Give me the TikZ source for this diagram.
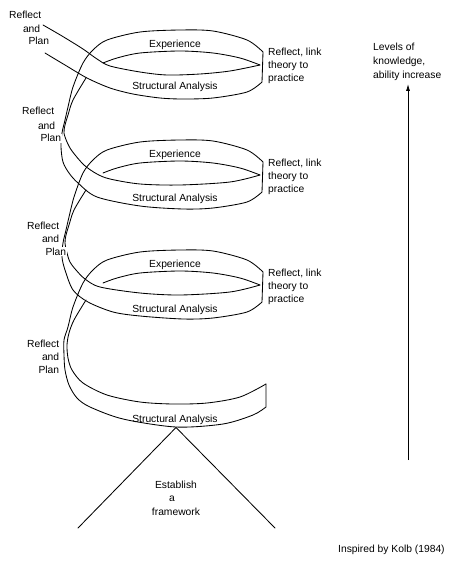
\documentclass[tikz,border=0pt]{standalone}
\usepackage{fontspec}
\setmainfont{Liberation Sans}
\usetikzlibrary{arrows.meta}
\begin{document}
\begin{tikzpicture}[x=1pt,y=-1pt,
  edge/.style={line width=0.85pt, line join=round, line cap=round},
  lbl/.style={font=\fontsize{10.3}{12}\selectfont, inner sep=0pt},
  rplbl/.style={lbl, fill=white, inner sep=0.6pt}]
\useasboundingbox (0,0) rectangle (456,564);

% outer edge of the ribbon (one continuous line through all turns)
\draw[edge] plot[smooth] coordinates {(45,53)(65,65)(87,78)(110,88)(133,94)(160,98)(183,99)(213,98)(247,92)(262,82)}
 -- plot[smooth] coordinates {(263,52)(247,40)(213,31)(180,30)(140,32)(107,40)(93,50)(83,63)(73,87)(68,107)(65,120)(62,133)(61,147)(63,162)(69,173)(78,183)(97,197)(140,206)(183,209)(213,208)(247,202)(262,192)}
 -- plot[smooth] coordinates {(263,162)(247,150)(213,141)(180,140)(140,142)(107,150)(93,160)(83,173)(74,197)(69,217)(66,230)(63,243)(62,257)(65,270)(73,290)(88,302)(113,312)(140,316)(183,319)(213,318)(247,312)(262,302)}
 -- plot[smooth] coordinates {(263,272)(247,260)(213,251)(180,250)(140,252)(107,260)(93,270)(83,283)(73,307)(68,327)(64,340)(64,355)(65,370)(69,385)(77,398)(90,407)(123,419)(176,427)(223,424)(253,415)(266,407)}
 -- (266,384);

% top edge of the incoming ribbon (first turn)
\draw[edge] plot[smooth] coordinates {(43,25)(62,36)(83,49)(97,59)(110,66)(140,72)(167,75)(200,74)(230,71)(260,65)};

% inner edges running down the left side into the next front band
\draw[edge] plot[smooth] coordinates {(86,78)(73,100)(68,115)(65,125)(64,133)(67,142)(72,151)(84,165)(97,174)(110,179)(140,184)(180,185)(230,182)(260,175)};
\draw[edge] plot[smooth] coordinates {(86,190)(74,210)(69,225)(66,235)(65,243)(67,253)(70,262)(76,270)(85,279)(100,287)(140,293)(180,295)(230,292)(260,285)};
\draw[edge] plot[smooth] coordinates {(86,300)(74,320)(69,333)(67,345)(68,358)(72,370)(83,383)(107,395)(140,402)(173,404)(207,403)(240,397)(266,384)};

% back bands (inner arcs), labels of each turn
\foreach \k/\d in {1/0,2/110,3/220}{
  \draw[edge,shift={(0,\d)}] plot[smooth] coordinates {(260,65)(240,58)(213,53)(180,51)(140,53)(117,58)(103,63)};
  \node[lbl,anchor=base] (exp\k) at (175,47.5+\d) {Experience};
  \node[lbl,anchor=base west] (rla\k) at (268,56+\d) {Reflect, link};
  \node[lbl,anchor=base west] (rlb\k) at (268,69+\d) {theory to};
  \node[lbl,anchor=base west] (rlc\k) at (268,82+\d) {practice};
}
\foreach \k/\y in {1/90,2/201,3/312,4/422}{
  \node[lbl,anchor=base] (sa\k) at (175,\y) {Structural Analysis};
}

% Reflect and Plan labels
\foreach \n/\ra/\rb/\rc/\ya/\yb/\yc in {1/42/41/50/19/33/45, 2/55/56/62/115/130/142, 3/60/60/67/229/242/255, 4/60/60/60/347/360/373}{
  \node[rplbl,anchor=base east] (rpa\n) at (\ra,\ya) {Reflect};
  \node[rplbl,anchor=base east] (rpb\n) at (\rb,\yb) {and};
  \node[rplbl,anchor=base east] (rpc\n) at (\rc,\yc) {Plan};
}

% framework triangle
\coordinate (apex) at (176,427.5);
\coordinate (tl) at (78,528);
\coordinate (tr) at (275,528);
\draw[edge] (tl) -- (apex) -- (tr);
\node[lbl,anchor=base] (est1) at (176,488) {Establish};
\node[lbl,anchor=base] (est2) at (172,501.5) {a};
\node[lbl,anchor=base] (est3) at (176,515.5) {framework};

% levels arrow
\node[lbl,anchor=base west] (lev1) at (373,51) {Levels of};
\node[lbl,anchor=base west] (lev2) at (373,65) {knowledge,};
\node[lbl,anchor=base west] (lev3) at (373,79) {ability increase};
\coordinate (abot) at (408,460);
\coordinate (atop) at (408,84);
\draw[line width=0.8pt,-{Latex[length=7pt,width=4pt]}] (abot) -- (atop);

\node[lbl,anchor=base west] (kolb) at (338,552) {Inspired by Kolb (1984)};
\end{tikzpicture}
\end{document}
